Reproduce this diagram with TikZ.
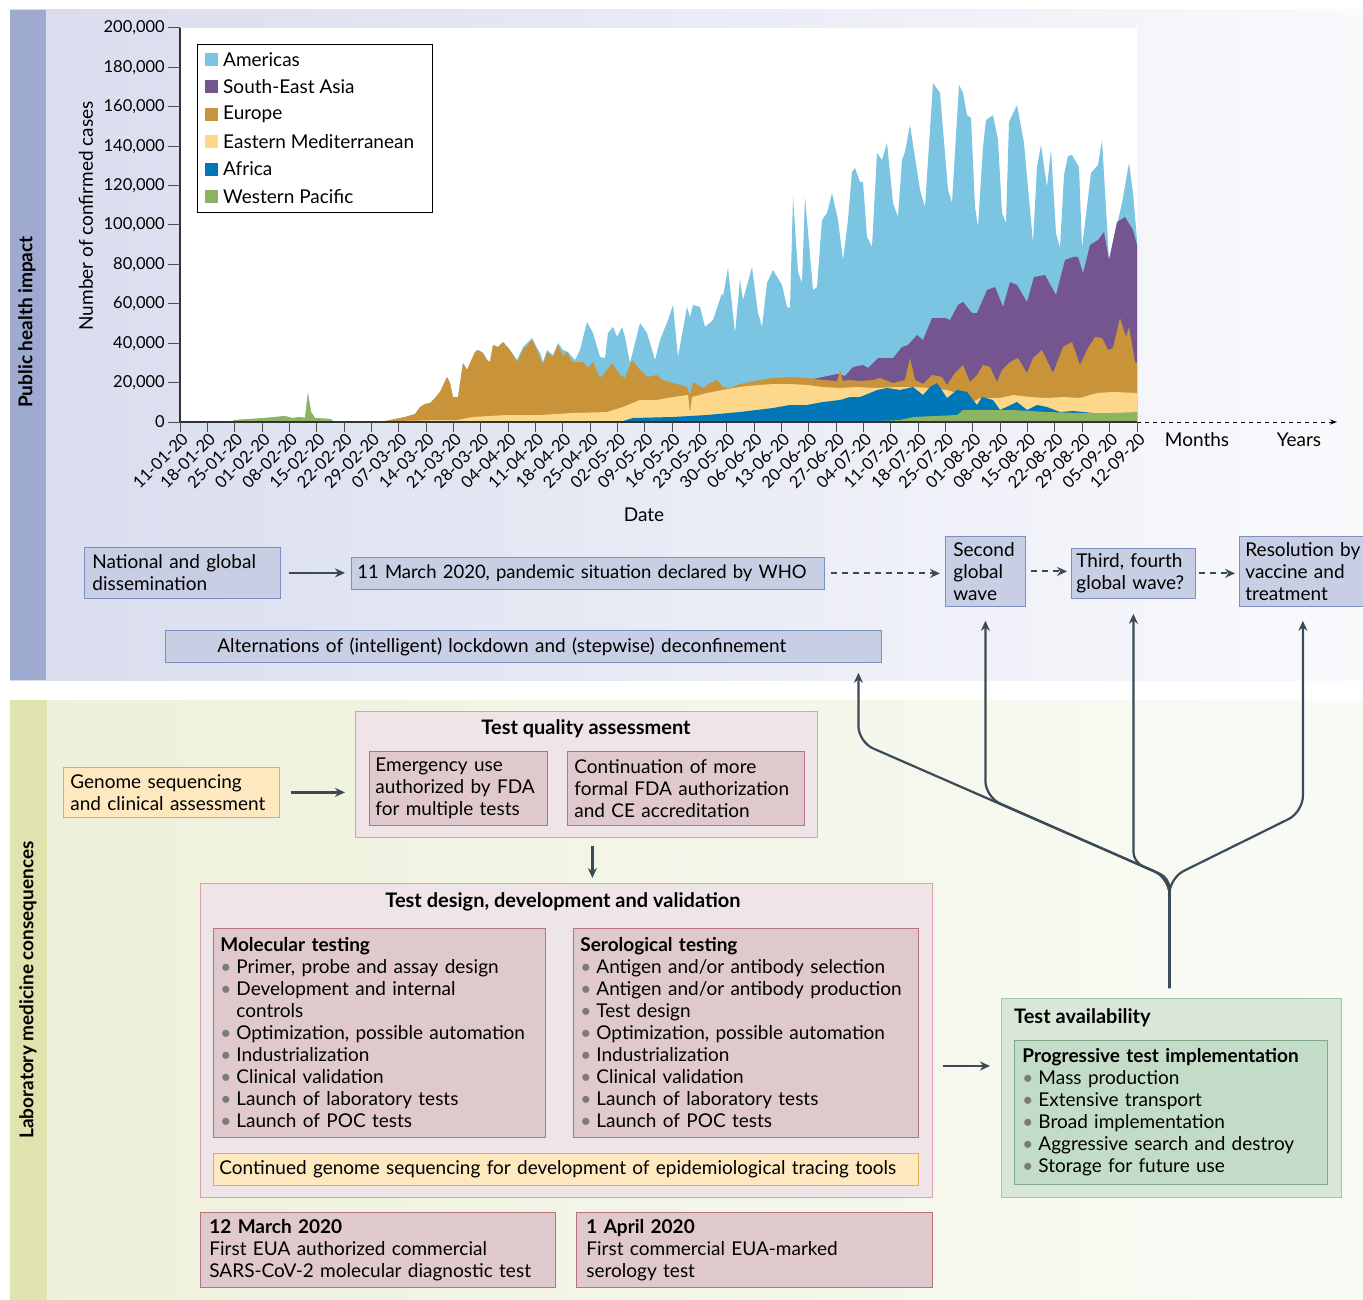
\documentclass[tikz,border=0pt]{standalone}
\usepackage{fontspec}
\setmainfont{Lato}
\usetikzlibrary{arrows.meta,positioning}

\definecolor{phstrip}{HTML}{9EAACF}
\definecolor{phbgl}{HTML}{D8DCED}
\definecolor{phbgr}{HTML}{FAFAFD}
\definecolor{labstrip}{HTML}{DFE3AD}
\definecolor{labbgl}{HTML}{EEF0DA}
\definecolor{labbgr}{HTML}{FAFBF6}
\definecolor{phfill}{HTML}{C8CEE3}
\definecolor{phline}{HTML}{7D8EC0}
\definecolor{pinkout}{HTML}{EFE4E7}
\definecolor{pinkoutline}{HTML}{D8A2AD}
\definecolor{pinkin}{HTML}{E0C9CD}
\definecolor{pinkline}{HTML}{B5727F}
\definecolor{genfill}{HTML}{FDE8C0}
\definecolor{genline}{HTML}{DFAE4E}
\definecolor{greenout}{HTML}{D9E7D9}
\definecolor{greenoutline}{HTML}{A3C6A5}
\definecolor{greenin}{HTML}{C3DCC8}
\definecolor{greenline}{HTML}{7FA98A}
\definecolor{conncol}{HTML}{3A4B57}
\definecolor{bulgray}{HTML}{7A7A7A}
\definecolor{amer}{HTML}{7BC4E2}
\definecolor{sea}{HTML}{74558F}
\definecolor{eur}{HTML}{C9933A}
\definecolor{emed}{HTML}{FDD88A}
\definecolor{afr}{HTML}{0077B6}
\definecolor{wpac}{HTML}{8DB462}

\newcommand\bu{\textcolor{bulgray}{\textbullet}\hspace{5pt}}
\newcommand\bux{\phantom{\textbullet}\hspace{5pt}}

\tikzset{
  txt/.style={font=\fontsize{19}{22}\selectfont},
  bx/.style={txt, anchor=north west, align=left, inner xsep=8pt, inner ysep=3pt, line width=0.8pt},
  phbox/.style={bx, fill=phfill, draw=phline},
  pinkbox/.style={bx, fill=pinkin, draw=pinkline},
  genbox/.style={bx, fill=genfill, draw=genline},
  greenbox/.style={bx, fill=greenin, draw=greenline},
  pinkouter/.style={anchor=north west, fill=pinkout, draw=pinkoutline, line width=0.8pt, inner sep=0pt},
  greenouter/.style={anchor=north west, fill=greenout, draw=greenoutline, line width=0.8pt, inner sep=0pt},
  ttl/.style={font=\bfseries\fontsize{20}{22}\selectfont, inner sep=0pt},
  sidelbl/.style={rotate=90, font=\bfseries\fontsize{19}{22}\selectfont, inner sep=0pt},
  conn/.style={draw=conncol, line width=2.2pt, -{Stealth[length=10pt,width=9pt]}},
  dconn/.style={conn, line width=2pt, dash pattern=on 6pt off 5pt},
  tickline/.style={draw=black!70, line width=1pt},
  datelbl/.style={rotate=45, font=\fontsize{16.5}{18}\selectfont, inner sep=0pt},
  ylbl/.style={font=\fontsize{16.5}{18}\selectfont, inner sep=0pt},
}

\begin{document}
\begin{tikzpicture}[x=1pt,y=-1pt]
\useasboundingbox (0,0) rectangle (1363,1300);
\fill[white] (0,0) rectangle (1363,1300);

% panels
\shade[left color=phbgl, right color=phbgr] (10,10) rectangle (1363,680);
\fill[phstrip] (10,10) rectangle (46,680);
\shade[left color=labbgl, right color=labbgr] (10,700) rectangle (1363,1300);
\fill[labstrip] (10,700) rectangle (47,1300);
\node[sidelbl] (phlbl) at (27,322) {Public health impact};
\node[sidelbl] (lablbl) at (28,990) {Laboratory medicine consequences};

% chart area
\fill[white] (180,28) rectangle (1137,422);
% stacked layers, top one first
\fill[amer] (180,422) -- (230,422) -- (235,420) -- (250,419) -- (265,418) -- (275,417) -- (285,416) -- (292,418) -- (300,417) -- (305,418) -- (308,393) -- (311,412) -- (315,418) -- (330,419) -- (335,422) -- (380,422) -- (385,421) -- (395,419) -- (405,417) -- (415,414) -- (420,407) -- (425,404) -- (430,403) -- (435,398) -- (440,392) -- (447,377) -- (450,383) -- (453,397) -- (458,397) -- (463,363) -- (467,370) -- (475,352) -- (478,350) -- (483,353) -- (487,360) -- (490,362) -- (493,345) -- (498,347) -- (503,342) -- (510,350) -- (517,360) -- (523,347) -- (532,338) -- (537,348) -- (540,353) -- (543,362) -- (547,350) -- (553,355) -- (558,343) -- (563,350) -- (568,352) -- (575,360) -- (580,350) -- (587,322) -- (593,333) -- (600,357) -- (605,358) -- (608,333) -- (613,327) -- (617,337) -- (622,327) -- (625,337) -- (630,363) -- (640,323) -- (647,333) -- (655,360) -- (660,340) -- (668,320) -- (673,305) -- (678,357) -- (687,307) -- (690,317) -- (693,305) -- (700,307) -- (705,327) -- (713,320) -- (722,293) -- (723,297) -- (728,268) -- (735,333) -- (740,280) -- (743,300) -- (752,267) -- (758,313) -- (762,327) -- (767,283) -- (773,270) -- (782,285) -- (787,307) -- (790,308) -- (793,197) -- (798,272) -- (802,283) -- (805,197) -- (813,290) -- (817,287) -- (822,220) -- (827,213) -- (832,193) -- (838,220) -- (843,260) -- (848,220) -- (852,172) -- (855,168) -- (860,182) -- (863,182) -- (867,237) -- (872,247) -- (877,153) -- (882,160) -- (887,143) -- (893,203) -- (898,217) -- (902,160) -- (905,152) -- (910,125) -- (920,190) -- (925,207) -- (933,83) -- (940,93) -- (948,190) -- (952,203) -- (959,85) -- (963,93) -- (967,115) -- (971,118) -- (975,207) -- (978,227) -- (983,147) -- (986,120) -- (993,115) -- (998,140) -- (1002,213) -- (1006,223) -- (1009,122) -- (1017,105) -- (1024,143) -- (1033,243) -- (1037,167) -- (1041,145) -- (1047,187) -- (1051,150) -- (1056,233) -- (1060,248) -- (1064,175) -- (1068,156) -- (1072,155) -- (1079,167) -- (1082,248) -- (1091,173) -- (1098,165) -- (1102,140) -- (1109,260) -- (1122,203) -- (1129,163) -- (1133,193) -- (1137,240) -- (1137,422) -- cycle;
\fill[sea] (790,422) -- (790,381) -- (807,380) -- (823,377) -- (837,374) -- (845,376) -- (853,367) -- (863,365) -- (868,368) -- (878,358) -- (888,358) -- (893,358) -- (902,347) -- (908,345) -- (917,335) -- (923,340) -- (932,318) -- (945,318) -- (950,320) -- (958,305) -- (963,302) -- (972,313) -- (977,313) -- (987,290) -- (995,287) -- (1003,307) -- (1010,282) -- (1017,285) -- (1027,302) -- (1034,277) -- (1045,275) -- (1056,295) -- (1065,260) -- (1073,257) -- (1078,257) -- (1083,273) -- (1090,245) -- (1098,240) -- (1104,232) -- (1109,260) -- (1117,222) -- (1125,217) -- (1133,230) -- (1137,245) -- (1137,422) -- cycle;
\fill[eur] (380,422) -- (385,421) -- (395,419) -- (405,417) -- (415,414) -- (420,407) -- (425,404) -- (430,403) -- (435,398) -- (440,392) -- (447,377) -- (450,383) -- (453,397) -- (458,397) -- (463,363) -- (467,370) -- (475,352) -- (478,350) -- (483,353) -- (487,360) -- (490,362) -- (493,345) -- (498,347) -- (503,342) -- (510,350) -- (517,362) -- (523,350) -- (532,340) -- (537,350) -- (540,358) -- (543,365) -- (547,352) -- (553,357) -- (558,345) -- (563,356) -- (567,352) -- (572,362) -- (577,362) -- (583,362) -- (588,368) -- (593,362) -- (600,378) -- (607,370) -- (612,363) -- (620,375) -- (625,378) -- (632,360) -- (640,370) -- (647,377) -- (657,375) -- (662,380) -- (673,383) -- (687,387) -- (690,395) -- (693,382) -- (703,388) -- (710,383) -- (717,380) -- (723,387) -- (730,388) -- (740,384) -- (750,382) -- (760,380) -- (773,378) -- (790,377) -- (807,378) -- (823,380) -- (837,381) -- (840,370) -- (843,381) -- (850,380) -- (860,381) -- (873,380) -- (880,378) -- (893,383) -- (905,380) -- (910,358) -- (915,380) -- (923,384) -- (932,375) -- (942,377) -- (947,385) -- (955,373) -- (963,365) -- (970,382) -- (977,375) -- (983,365) -- (990,367) -- (997,382) -- (1002,370) -- (1010,362) -- (1018,358) -- (1027,373) -- (1033,358) -- (1042,350) -- (1053,373) -- (1063,347) -- (1072,342) -- (1080,365) -- (1088,348) -- (1095,337) -- (1102,338) -- (1108,350) -- (1113,348) -- (1120,318) -- (1126,337) -- (1129,327) -- (1135,362) -- (1137,363) -- (1137,422) -- cycle;
\fill[emed] (380,422) -- (400,421) -- (440,420) -- (457,420) -- (473,417) -- (507,415) -- (540,415) -- (573,413) -- (607,412) -- (623,407) -- (640,400) -- (657,400) -- (673,397) -- (688,395) -- (690,413) -- (692,397) -- (707,393) -- (723,390) -- (733,388) -- (747,386) -- (760,385) -- (773,384) -- (790,384) -- (807,385) -- (823,387) -- (840,388) -- (857,387) -- (873,388) -- (900,387) -- (913,387) -- (930,388) -- (947,390) -- (963,395) -- (973,402) -- (980,398) -- (1000,398) -- (1013,395) -- (1030,397) -- (1047,398) -- (1063,397) -- (1080,398) -- (1097,393) -- (1113,392) -- (1137,393) -- (1137,422) -- cycle;
\fill[afr] (620,422) -- (633,418) -- (673,417) -- (707,415) -- (740,412) -- (773,408) -- (790,405) -- (807,405) -- (823,402) -- (840,400) -- (850,397) -- (860,397) -- (870,393) -- (877,390) -- (887,388) -- (900,390) -- (913,387) -- (923,395) -- (930,387) -- (937,383) -- (947,398) -- (957,390) -- (967,392) -- (977,405) -- (982,397) -- (993,400) -- (1000,410) -- (1017,402) -- (1027,410) -- (1037,405) -- (1047,407) -- (1060,412) -- (1073,411) -- (1093,413) -- (1110,417) -- (1137,413) -- (1137,422) -- cycle;
\fill[wpac] (180,422) -- (230,422) -- (235,420) -- (250,419) -- (265,418) -- (275,417) -- (285,416) -- (292,418) -- (300,417) -- (305,418) -- (308,393) -- (311,412) -- (315,418) -- (330,419) -- (335,422) -- (880,421) -- (900,420) -- (913,417) -- (957,415) -- (963,410) -- (980,410) -- (1013,410) -- (1047,412) -- (1080,413) -- (1113,413) -- (1137,412) -- (1137,422) -- cycle;

% axes
\coordinate (orig) at (180,422);
\coordinate (xend) at (1137,422);
\coordinate (xfar) at (1337,422);
\draw[line width=1.2pt, black!80] (180,28) -- (orig) -- (xend);
\draw[black, line width=0.9pt, dash pattern=on 4pt off 4pt, -{Stealth[length=7pt,width=5pt]}] (xend) -- (xfar);
\foreach \i in {0,...,10}{
  \draw[tickline] (168,422-39.4*\i) -- (180,422-39.4*\i);
  \ifnum\i=0 \def\ylab{0}\else\pgfmathtruncatemacro\yk{2*\i}\def\ylab{\yk0,000}\fi
  \node[ylbl, anchor=east] (yl\i) at (165,422-39.4*\i) {\ylab};
}
\foreach \d [count=\i from 0] in {11-01-20,18-01-20,25-01-20,01-02-20,08-02-20,15-02-20,22-02-20,29-02-20,07-03-20,14-03-20,21-03-20,28-03-20,04-04-20,11-04-20,18-04-20,25-04-20,02-05-20,09-05-20,16-05-20,23-05-20,30-05-20,06-06-20,13-06-20,20-06-20,27-06-20,04-07-20,11-07-20,18-07-20,25-07-20,01-08-20,08-08-20,15-08-20,22-08-20,29-08-20,05-09-20,12-09-20}{
  \draw[tickline] (180+27.343*\i,422) -- ++(0,10);
  \node[datelbl, anchor=east] (dl\i) at (185+27.343*\i,436) {\d};
}
\node[txt, rotate=90] (ytitle) at (86,216) {Number of confirmed cases};
\node[txt] (xtitle) at (644,515) {Date};
\node[txt] (months) at (1197,440) {Months};
\node[txt] (years) at (1299,440) {Years};

% legend
\node[draw=black, line width=0.8pt, fill=white, anchor=north west, minimum width=235pt, minimum height=168pt, inner sep=0pt] (legend) at (197,44) {};
\foreach \c/\t [count=\i from 0] in {amer/Americas,sea/South-East Asia,eur/Europe,emed/Eastern Mediterranean,afr/Africa,wpac/Western Pacific}{
  \fill[\c] (205,53+27.4*\i) rectangle ++(13,13);
  \node[txt, anchor=west, inner sep=0pt] (leg\i) at (223,59.5+27.4*\i) {\t};
}

% public health boxes
\node[phbox, text width=180pt, minimum height=51pt] (dissem) at (84,547) {National and global\\dissemination};
\node[phbox, text width=461pt, minimum height=32pt, inner xsep=6pt, font=\fontsize{18.5}{22}\selectfont] (who) at (351,557) {11 March 2020, pandemic situation declared by WHO};
\node[phbox, text width=64pt, minimum height=70pt] (second) at (945,536) {Second\\global\\wave};
\node[phbox, text width=114pt, minimum height=50pt, inner xsep=5pt] (third) at (1071,548) {Third, fourth\\global wave?};
\node[phbox, text width=125pt, minimum height=70pt, inner xsep=6pt] (resol) at (1239,536) {Resolution by\\vaccine and\\treatment};
\node[phbox, text width=700pt, minimum height=32pt] (lockdown) at (165,630) {\hspace*{44pt}Alternations of (intelligent) lockdown and (stepwise) deconfinement};

\draw[conn, shorten <=8pt, shorten >=6pt] (dissem.east) -- (dissem.east -| who.west);
\draw[dconn, shorten <=6pt, shorten >=5pt] (who.east) -- (who.east -| second.west);
\draw[dconn, shorten <=5pt, shorten >=4pt] (second.east) -- (second.east -| third.west);
\draw[dconn, shorten <=3pt, shorten >=4pt] (third.east) -- (third.east -| resol.west);

% laboratory boxes
\node[genbox, text width=202pt, minimum height=50pt, inner xsep=7pt] (genome) at (63,767) {Genome sequencing\\and clinical assessment};
\node[pinkouter, minimum width=462pt, minimum height=126pt] (tqa) at (355,711) {};
\node[ttl] (tqatitle) at (586,729) {Test quality assessment};
\node[pinkbox, text width=166pt, minimum height=74pt, inner xsep=6pt] (eua) at (369,751) {Emergency use\\authorized by FDA\\for multiple tests};
\node[pinkbox, text width=223pt, minimum height=74pt, inner xsep=7pt] (fda) at (567,751) {Continuation of more\\formal FDA authorization\\and CE accreditation};

\node[pinkouter, minimum width=732pt, minimum height=314pt] (tdd) at (200,883) {};
\node[ttl] (tddtitle) at (563,902) {Test design, development and validation};
\node[pinkbox, text width=318pt, minimum height=209pt, inner xsep=7pt] (mol) at (213,928) {\textbf{Molecular testing}\\
\bu Primer, probe and assay design\\
\bu Development and internal\\
\bux controls\\
\bu Optimization, possible automation\\
\bu Industrialization\\
\bu Clinical validation\\
\bu Launch of laboratory tests\\
\bu Launch of POC tests};
\node[pinkbox, text width=331pt, minimum height=209pt, inner xsep=7pt] (sero) at (573,928) {\textbf{Serological testing}\\
\bu Antigen and/or antibody selection\\
\bu Antigen and/or antibody production\\
\bu Test design\\
\bu Optimization, possible automation\\
\bu Industrialization\\
\bu Clinical validation\\
\bu Launch of laboratory tests\\
\bu Launch of POC tests};
\node[genbox, text width=693pt, minimum height=32pt, inner xsep=6pt] (contseq) at (213,1153) {Continued genome sequencing for development of epidemiological tracing tools};
\node[pinkbox, text width=337pt, minimum height=75pt, inner xsep=9pt] (mar12) at (200,1212) {\textbf{12 March 2020}\\First EUA authorized commercial\\SARS-CoV-2 molecular diagnostic test};
\node[pinkbox, text width=336pt, minimum height=75pt, inner xsep=10pt] (apr1) at (576,1212) {\textbf{1 April 2020}\\First commercial EUA-marked\\serology test};

\node[greenouter, minimum width=340pt, minimum height=199pt] (avail) at (1001,998) {};
\node[ttl, anchor=west] (availtitle) at (1014,1018) {Test availability};
\node[greenbox, text width=297pt, minimum height=144pt] (prog) at (1014,1040) {\textbf{Progressive test implementation}\\
\bu Mass production\\
\bu Extensive transport\\
\bu Broad implementation\\
\bu Aggressive search and destroy\\
\bu Storage for future use};

\draw[conn, shorten <=11pt, shorten >=10pt] (genome.east) -- (genome.east -| tqa.west);
\draw[conn, shorten <=8pt, shorten >=5pt] ([xshift=6pt]tqa.south) -- ([xshift=6pt]tqa.south |- tdd.north);
\draw[conn, shorten <=10pt, shorten >=11pt] (tdd.east |- 0,1066) -- (avail.west |- 0,1066);

% branching connector
\coordinate (trunk) at ([xshift=-2pt,yshift=10pt]avail.north);
\coordinate (fork) at (trunk |- 0,878);
\path (lockdown.south) ++(335,10) coordinate (tipL);
\path (second.south) ++(0,14) coordinate (tipS);
\path (third.south) ++(0,15) coordinate (tipT);
\path (resol.south) ++(-5,14) coordinate (tipR);
\draw[conn, rounded corners=16pt] (trunk) -- (fork) -- (tipL |- 0,742) -- (tipL);
\draw[conn, rounded corners=16pt] (trunk) -- (fork) -- (tipS |- 0,797) -- (tipS);
\draw[conn, rounded corners=10pt] (trunk) -- (fork) -- (tipT |- 0,862) -- (tipT);
\draw[conn, rounded corners=16pt] (trunk) -- (fork) -- (tipR |- 0,812) -- (tipR);
\end{tikzpicture}
\end{document}
